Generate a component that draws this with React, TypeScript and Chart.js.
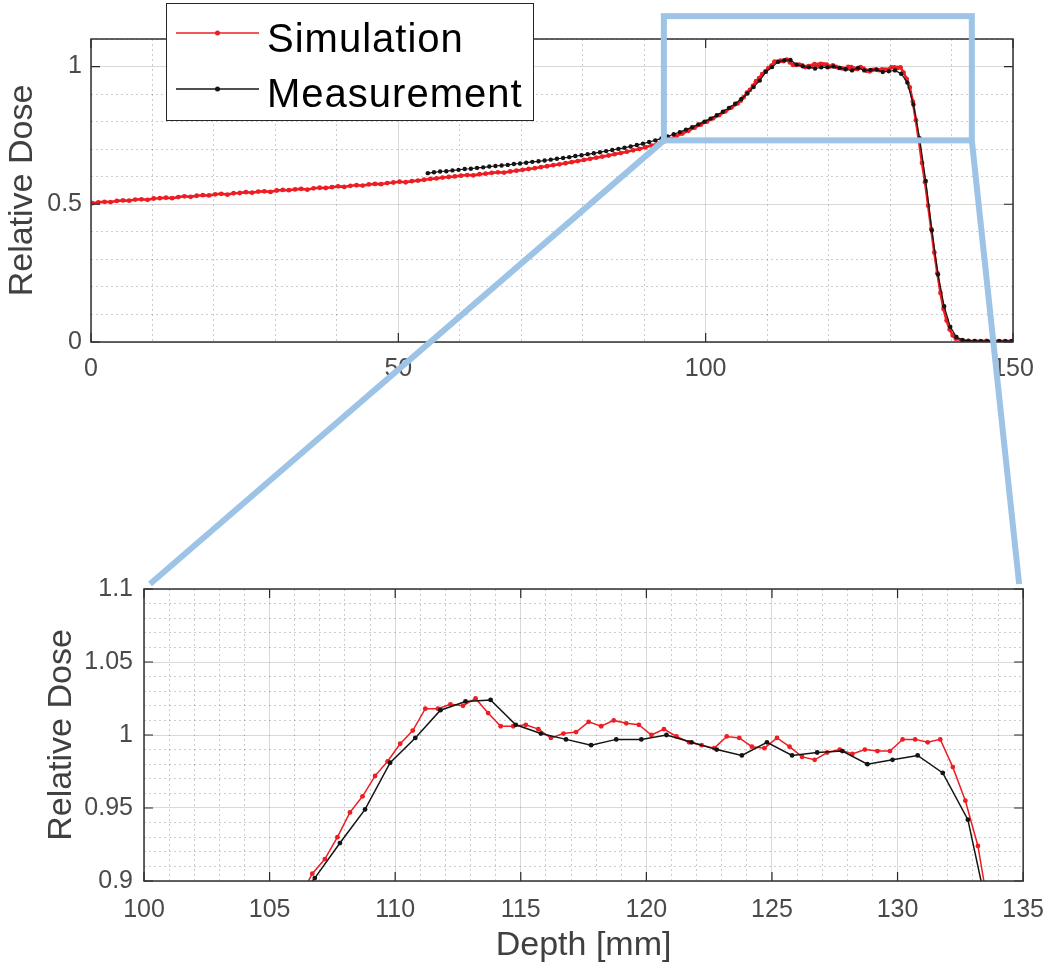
import React, { useEffect, useRef } from "react";
import { Chart, registerables } from "chart.js";

Chart.register(...registerables);

const FONT = '"Liberation Sans", Arial, Helvetica, sans-serif';
const RED = "#ee1d23";
const BLACK = "#141414";
const ZOOM_BLUE = "#9dc3e6";

// ---------- Simulation (red) ----------
const simDepthEntrance = [
  0.2, 1.2, 2.2, 3.2, 4.2, 5.2, 6.2, 7.2, 8.2, 9.2,
  10.2, 11.2, 12.2, 13.2, 14.2, 15.2, 16.2, 17.2, 18.2, 19.2,
  20.2, 21.2, 22.2, 23.2, 24.2, 25.2, 26.2, 27.2, 28.2, 29.2,
  30.2, 31.2, 32.2, 33.2, 34.2, 35.2, 36.2, 37.2, 38.2, 39.2,
  40.2, 41.2, 42.2, 43.2, 44.2, 45.2, 46.2, 47.2, 48.2, 49.2,
  50.2, 51.2, 52.2, 53.2, 54.2, 55.2, 56.2, 57.2, 58.2, 59.2,
  60.2, 61.2, 62.2, 63.2, 64.2, 65.2, 66.2, 67.2, 68.2, 69.2,
  70.2, 71.2, 72.2, 73.2, 74.2, 75.2, 76.2, 77.2, 78.2, 79.2,
  80.2, 81.2, 82.2, 83.2, 84.2, 85.2, 86.2, 87.2, 88.2, 89.2,
  90.2, 91.2, 92.2, 93.2, 94.2, 95.2, 96.2, 97.2, 98.2, 99.2,
  100.2, 101.2, 102.2, 103.2, 104.2, 105.2,
];
const simDoseEntrance = [
  0.504, 0.507, 0.509, 0.508, 0.512, 0.514, 0.513, 0.517, 0.518, 0.516,
  0.521, 0.522, 0.524, 0.522, 0.526, 0.529, 0.527, 0.531, 0.533, 0.532,
  0.536, 0.538, 0.535, 0.54, 0.541, 0.544, 0.542, 0.546, 0.547, 0.545,
  0.55, 0.552, 0.551, 0.554, 0.556, 0.553, 0.558, 0.56, 0.559, 0.562,
  0.565, 0.563, 0.567, 0.569, 0.568, 0.572, 0.574, 0.573, 0.577, 0.579,
  0.582, 0.58, 0.584, 0.586, 0.589, 0.592, 0.594, 0.597, 0.599, 0.601,
  0.604, 0.606, 0.605, 0.609, 0.611, 0.614, 0.616, 0.615, 0.619, 0.622,
  0.625, 0.628, 0.631, 0.635, 0.638, 0.642, 0.645, 0.649, 0.653, 0.657,
  0.661, 0.665, 0.669, 0.673, 0.677, 0.682, 0.686, 0.691, 0.696, 0.701,
  0.707, 0.713, 0.72, 0.728, 0.737, 0.747, 0.757, 0.767, 0.778, 0.789,
  0.8, 0.812, 0.824, 0.837, 0.851, 0.866,
];
const simDepthPeak = [
  105.7, 106.2, 106.7, 107.2, 107.7, 108.2, 108.7, 109.2, 109.7, 110.2,
  110.7, 111.2, 111.7, 112.2, 112.7, 113.2, 113.7, 114.2, 114.7, 115.2,
  115.7, 116.2, 116.7, 117.2, 117.7, 118.2, 118.7, 119.2, 119.7, 120.2,
  120.7, 121.2, 121.7, 122.2, 122.7, 123.2, 123.7, 124.2, 124.7, 125.2,
  125.7, 126.2, 126.7, 127.2, 127.7, 128.2, 128.7, 129.2, 129.7, 130.2,
  130.7, 131.2, 131.7, 132.2, 132.7, 133.2, 133.7,
];
const simDosePeak = [
  0.876, 0.889, 0.905, 0.915, 0.93, 0.947, 0.958, 0.972, 0.982, 0.994,
  1.003, 1.018, 1.018, 1.021, 1.02, 1.025, 1.015, 1.006, 1.006, 1.007,
  1.004, 0.998, 1.001, 1.002, 1.009, 1.006, 1.01, 1.008, 1.007, 1.0,
  1.004, 0.999, 0.995, 0.993, 0.991, 0.999, 0.998, 0.992, 0.991, 0.998,
  0.992, 0.985, 0.983, 0.988, 0.99, 0.987, 0.99, 0.989, 0.989, 0.997,
  0.997, 0.995, 0.997, 0.978, 0.955, 0.924, 0.873,
];
const simDepthFalloff = [
  134.2, 134.7, 135.2, 135.7, 136.2, 136.7, 137.2, 137.7, 138.2, 138.7,
  139.2, 139.7, 140.2, 140.7, 141.7, 142.7, 143.7, 144.7, 145.7, 146.7,
  147.7, 148.7, 149.7,
];
const simDoseFalloff = [
  0.805, 0.73, 0.65, 0.58, 0.495, 0.41, 0.325, 0.25, 0.178, 0.12,
  0.078, 0.045, 0.024, 0.012, 0.006, 0.004, 0.003, 0.003, 0.004, 0.003,
  0.003, 0.003, 0.003,
];

// ---------- Measurement (black) ----------
const measDepth = [
  54.8, 55.8, 56.8, 57.8, 58.8, 59.8, 60.8, 61.8, 62.8, 63.8,
  64.8, 65.8, 66.8, 67.8, 68.8, 69.8, 70.8, 71.8, 72.8, 73.8,
  74.8, 75.8, 76.8, 77.8, 78.8, 79.8, 80.8, 81.8, 82.8, 83.8,
  84.8, 85.8, 86.8, 87.8, 88.8, 89.8, 90.8, 91.8, 92.8, 93.8,
  94.8, 95.8, 96.8, 97.8, 98.8, 99.8, 100.8, 101.8, 102.8, 103.8,
  104.8, 105.8, 106.8, 107.8, 108.8, 109.8, 110.8, 111.8, 112.8, 113.8,
  114.8, 115.8, 116.8, 117.8, 118.8, 119.8, 120.8, 121.8, 122.8, 123.8,
  124.8, 125.8, 126.8, 127.8, 128.8, 129.8, 130.8, 131.8, 132.8, 133.8,
  134.8, 135.8, 136.8, 137.8, 138.8, 139.8, 140.8, 141.8, 142.8, 143.8,
  144.8, 145.8, 146.8, 147.8, 148.8, 149.8,
];
const measDose = [
  0.613, 0.616, 0.619, 0.62, 0.623, 0.625, 0.628, 0.629, 0.632, 0.634,
  0.637, 0.639, 0.641, 0.643, 0.646, 0.648, 0.651, 0.654, 0.656, 0.659,
  0.662, 0.665, 0.668, 0.671, 0.675, 0.678, 0.682, 0.685, 0.689, 0.693,
  0.697, 0.701, 0.705, 0.71, 0.715, 0.72, 0.726, 0.732, 0.739, 0.746,
  0.754, 0.762, 0.771, 0.78, 0.79, 0.8, 0.811, 0.823, 0.836, 0.85,
  0.865, 0.882, 0.902, 0.926, 0.949, 0.981, 0.998, 1.017, 1.023, 1.024,
  1.007, 1.001, 0.997, 0.993, 0.997, 0.997, 1.0, 0.995, 0.99, 0.986,
  0.995, 0.986, 0.988, 0.989, 0.98, 0.983, 0.986, 0.974, 0.942, 0.862,
  0.74, 0.585, 0.405, 0.245, 0.13, 0.055, 0.018, 0.007, 0.004, 0.004,
  0.003, 0.003, 0.004, 0.003, 0.003, 0.003,
];

// ---------- Axes / labels ----------
const SERIES_NAMES = ["Simulation", "Measurement"];
const Y_TITLE = "Relative Dose";
const X_TITLE = "Depth [mm]";
const TOP_X_TICKS = [0, 50, 100, 150];
const TOP_Y_TICKS = [0, 0.5, 1];
const ZOOM_X_TICKS = [100, 105, 110, 115, 120, 125, 130, 135];
const ZOOM_Y_TICKS = [0.9, 0.95, 1, 1.05, 1.1];
const ZOOM_WINDOW = { x0: 93.2, x1: 143.3, y0: 0.732, y1: 1.183 };

const simDepth = [...simDepthEntrance, ...simDepthPeak, ...simDepthFalloff];
const simDose = [...simDoseEntrance, ...simDosePeak, ...simDoseFalloff];
const toPoints = (xs: number[], ys: number[]) => xs.map((x, i) => ({ x, y: ys[i] }));

const isMajor = (v: number, list: number[]) => list.some((m) => Math.abs(m - v) < 1e-6);
const fmt = (v: number) => String(+v.toFixed(3));

const W = 1058;
const TOP_H = 390;
const BOT_TOP = 540;
const BOT_H = 427;

function axis(
  kind: "x" | "y",
  min: number,
  max: number,
  step: number,
  majors: number[],
  size: number,
  tickPad: number,
  title?: { text: string; padding: any }
) {
  return {
    type: "linear",
    min,
    max,
    afterFit: (s: any) => {
      if (kind === "x") s.height = size;
      else s.width = size;
    },
    ticks: {
      stepSize: step,
      autoSkip: false,
      maxRotation: 0,
      minRotation: 0,
      padding: tickPad,
      color: "#4a4a4a",
      font: { family: FONT, size: 25 },
      callback: (v: any) => (isMajor(Number(v), majors) ? fmt(Number(v)) : ""),
    },
    grid: {
      drawTicks: false,
      lineWidth: 1,
      color: (c: any) =>
        c.tick && isMajor(c.tick.value, majors) ? "rgba(0,0,0,0.15)" : "rgba(0,0,0,0.2)",
    },
    border: {
      display: false,
      dash: (c: any) => (c.tick && isMajor(c.tick.value, majors) ? [] : [2, 3]),
    },
    title: title
      ? {
          display: true,
          text: title.text,
          color: "#404040",
          font: { family: FONT, size: 34 },
          padding: title.padding,
        }
      : { display: false },
  };
}

function framePlugin(xMajor: number[], yMajor: number[]) {
  return {
    id: "frameTicks",
    afterDatasetsDraw(chart: any) {
      const { ctx, chartArea: a } = chart;
      const x = chart.scales.x;
      const y = chart.scales.y;
      const L = 9;
      ctx.save();
      ctx.strokeStyle = "#262626";
      ctx.lineWidth = 1.2;
      ctx.beginPath();
      for (const v of xMajor) {
        const p = x.getPixelForValue(v);
        ctx.moveTo(p, a.bottom);
        ctx.lineTo(p, a.bottom - L);
        ctx.moveTo(p, a.top);
        ctx.lineTo(p, a.top + L);
      }
      for (const v of yMajor) {
        const p = y.getPixelForValue(v);
        ctx.moveTo(a.left, p);
        ctx.lineTo(a.left + L, p);
        ctx.moveTo(a.right, p);
        ctx.lineTo(a.right - L, p);
      }
      ctx.stroke();
      ctx.lineWidth = 1.5;
      ctx.strokeStyle = "#303030";
      ctx.strokeRect(a.left, a.top, a.right - a.left, a.bottom - a.top);
      ctx.restore();
    },
  };
}

const legendPlugin = {
  id: "boxLegend",
  afterDraw(chart: any) {
    const ctx = chart.ctx;
    const bx = 166.5, by = 3.5, bw = 367, bh = 117;
    ctx.save();
    ctx.fillStyle = "#ffffff";
    ctx.fillRect(bx, by, bw, bh);
    ctx.strokeStyle = "#262626";
    ctx.lineWidth = 1;
    ctx.strokeRect(bx, by, bw, bh);
    chart.data.datasets.forEach((ds: any, i: number) => {
      const ly = 33 + 56 * i;
      ctx.strokeStyle = ds.borderColor;
      ctx.lineWidth = 1.5;
      ctx.beginPath();
      ctx.moveTo(176, ly);
      ctx.lineTo(259, ly);
      ctx.stroke();
      ctx.fillStyle = ds.borderColor;
      ctx.beginPath();
      ctx.arc(217.5, ly, 2.5, 0, Math.PI * 2);
      ctx.fill();
      ctx.fillStyle = "#000";
      ctx.font = `40px ${FONT}`;
      (ctx as any).letterSpacing = "1px";
      ctx.textBaseline = "alphabetic";
      ctx.textAlign = "left";
      ctx.fillText(ds.label, 267, 52 + 55 * i);
    });
    ctx.restore();
  },
};

export default function App() {
  const topRef = useRef<HTMLCanvasElement>(null);
  const botRef = useRef<HTMLCanvasElement>(null);
  const ovRef = useRef<HTMLCanvasElement>(null);

  useEffect(() => {
    const simPts = toPoints(simDepth, simDose);
    const measPts = toPoints(measDepth, measDose);

    const top = new Chart(topRef.current as HTMLCanvasElement, {
      type: "line",
      data: {
        datasets: [
          {
            label: SERIES_NAMES[0],
            data: simPts,
            borderColor: RED,
            backgroundColor: RED,
            borderWidth: 2.6,
            pointRadius: 2.4,
            pointBorderWidth: 0,
            order: 1,
          },
          {
            label: SERIES_NAMES[1],
            data: measPts,
            borderColor: BLACK,
            backgroundColor: BLACK,
            borderWidth: 1.2,
            pointRadius: 2.2,
            pointBorderWidth: 0,
            order: 0,
          },
        ],
      },
      options: {
        responsive: false,
        maintainAspectRatio: false,
        animation: false,
        layout: { padding: { left: 0, right: 45, top: 39, bottom: 0 } },
        plugins: { legend: { display: false }, tooltip: { enabled: false } },
        scales: {
          x: axis("x", 0, 150, 10, TOP_X_TICKS, 48, 12, undefined),
          y: axis("y", 0, 1.1, 0.1, TOP_Y_TICKS, 91, 9, {
            text: Y_TITLE,
            padding: { top: 2, bottom: 0 },
          }),
        },
      } as any,
      plugins: [framePlugin(TOP_X_TICKS, TOP_Y_TICKS), legendPlugin],
    });

    const bottom = new Chart(botRef.current as HTMLCanvasElement, {
      type: "line",
      data: {
        datasets: [
          {
            label: SERIES_NAMES[0],
            data: simPts,
            borderColor: RED,
            backgroundColor: RED,
            borderWidth: 1.5,
            pointRadius: 2.4,
            pointBorderWidth: 0,
            order: 1,
          },
          {
            label: SERIES_NAMES[1],
            data: measPts,
            borderColor: BLACK,
            backgroundColor: BLACK,
            borderWidth: 1.5,
            pointRadius: 2.4,
            pointBorderWidth: 0,
            order: 0,
          },
        ],
      },
      options: {
        responsive: false,
        maintainAspectRatio: false,
        animation: false,
        layout: { padding: { left: 0, right: 20, top: 49, bottom: 0 } },
        plugins: { legend: { display: false }, tooltip: { enabled: false } },
        scales: {
          x: axis("x", 100, 135, 1, ZOOM_X_TICKS, 86, 14, {
            text: X_TITLE,
            padding: { top: 0, bottom: 1 },
          }),
          y: axis("y", 0.9, 1.1, 0.01, ZOOM_Y_TICKS, 144, 11, {
            text: Y_TITLE,
            padding: { top: 41, bottom: 0 },
          }),
        },
      } as any,
      plugins: [framePlugin(ZOOM_X_TICKS, ZOOM_Y_TICKS)],
    });

    // zoom annotation (box on the top chart and connectors to the zoomed chart)
    const ov = ovRef.current as HTMLCanvasElement;
    const o = ov.getContext("2d") as CanvasRenderingContext2D;
    o.clearRect(0, 0, ov.width, ov.height);
    const tx: any = top.scales.x;
    const ty: any = top.scales.y;
    const bxs: any = bottom.scales.x;
    const bys: any = bottom.scales.y;
    const L = tx.getPixelForValue(ZOOM_WINDOW.x0);
    const R = tx.getPixelForValue(ZOOM_WINDOW.x1);
    const T = ty.getPixelForValue(ZOOM_WINDOW.y1);
    const B = ty.getPixelForValue(ZOOM_WINDOW.y0);
    const aL = bxs.getPixelForValue(ZOOM_X_TICKS[0]) + 6;
    const aR = bxs.getPixelForValue(ZOOM_X_TICKS[ZOOM_X_TICKS.length - 1]) - 4;
    const aY = BOT_TOP + bys.getPixelForValue(ZOOM_Y_TICKS[ZOOM_Y_TICKS.length - 1]) - 5;
    o.strokeStyle = ZOOM_BLUE;
    o.lineWidth = 6;
    o.lineJoin = "miter";
    o.strokeRect(L, T, R - L, B - T);
    o.beginPath();
    o.moveTo(L, B);
    o.lineTo(aL, aY);
    o.moveTo(R, B);
    o.lineTo(aR, aY);
    o.stroke();

    return () => {
      top.destroy();
      bottom.destroy();
      o.clearRect(0, 0, ov.width, ov.height);
    };
  }, []);

  return (
    <div
      style={{
        position: "absolute",
        left: 0,
        top: 0,
        width: W,
        height: 967,
        background: "#ffffff",
        overflow: "hidden",
      }}
    >
      <canvas
        ref={topRef}
        width={W}
        height={TOP_H}
        style={{ position: "absolute", left: 0, top: 0, width: W, height: TOP_H }}
      />
      <canvas
        ref={botRef}
        width={W}
        height={BOT_H}
        style={{ position: "absolute", left: 0, top: BOT_TOP, width: W, height: BOT_H }}
      />
      <canvas
        ref={ovRef}
        width={W}
        height={967}
        style={{ position: "absolute", left: 0, top: 0, width: W, height: 967, pointerEvents: "none" }}
      />
    </div>
  );
}
